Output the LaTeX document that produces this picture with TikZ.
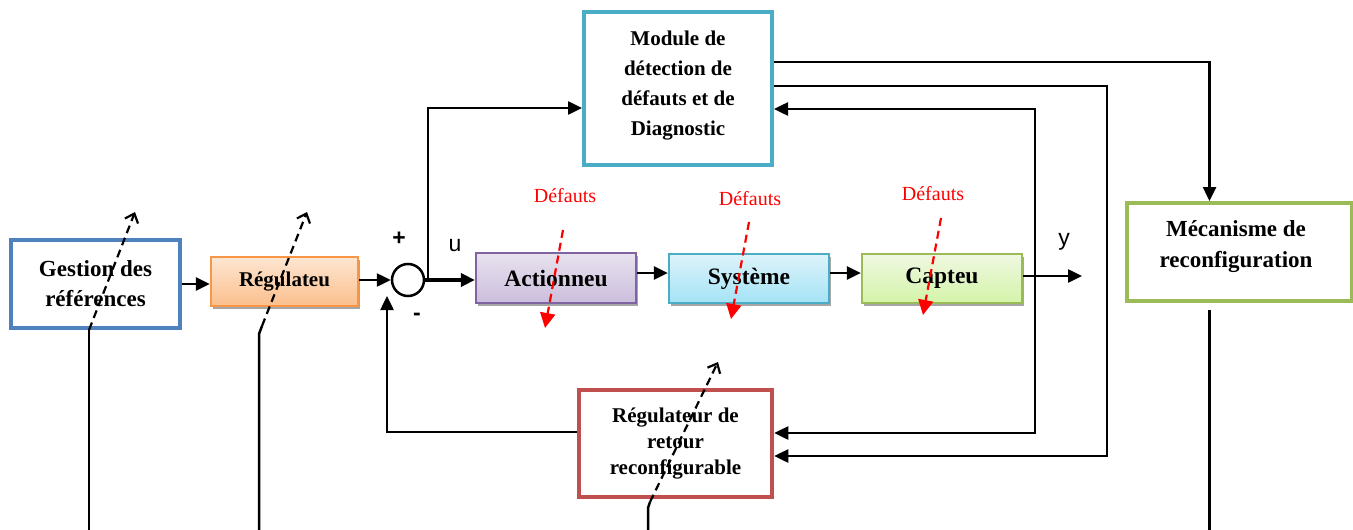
\documentclass[tikz,border=0pt]{standalone}
\usepackage{fontspec}
\setmainfont{Liberation Serif}
\newfontfamily\sansf{Liberation Sans}
\usetikzlibrary{arrows.meta,shadows,calc}
\definecolor{cBlue}{HTML}{4F81BD}
\definecolor{cOrange}{HTML}{F79646}
\definecolor{cPurple}{HTML}{8064A2}
\definecolor{cCyan}{HTML}{4BACC6}
\definecolor{cGreen}{HTML}{9BBB59}
\definecolor{cRed}{HTML}{C0504D}
\definecolor{oTop}{HTML}{FDE6D2}
\definecolor{oBot}{HTML}{FBBF8C}
\definecolor{pTop}{HTML}{E8E2EE}
\definecolor{pBot}{HTML}{CBBEDD}
\definecolor{sTop}{HTML}{DDF3FA}
\definecolor{sBot}{HTML}{A4E3F6}
\definecolor{gTop}{HTML}{F0F8E2}
\definecolor{gBot}{HTML}{D3F4A8}
\begin{document}
\begin{tikzpicture}[x=1pt,y=-1pt,
  bigbox/.style={draw, fill=white, inner sep=0pt, align=center, font=\bfseries},
  smallbox/.style={draw, line width=2.2pt, inner sep=0pt, align=center,
     drop shadow={shadow xshift=2pt, shadow yshift=-3pt, fill=black!35, opacity=1}},
  conn/.style={line width=2.5pt, -{Triangle[length=14pt,width=13pt]}},
  plain/.style={line width=2.5pt},
  reconf/.style={line width=2.2pt, dash pattern=on 8pt off 5pt, -{Straight Barb[length=8pt,width=14pt,line width=2.2pt]}},
  fault/.style={red, line width=2.2pt, dash pattern=on 8pt off 5pt, -{Triangle[length=15pt,width=15pt]}},
  flabel/.style={red, font=\fontsize{20}{24}\selectfont},
  sig/.style={font=\sansf\fontsize{23}{26}\selectfont}]
\useasboundingbox (0,0) rectangle (1353,530);
\fill[white] (0,0) rectangle (1353,530);

% boxes
\node[bigbox, draw=cBlue, line width=3.5pt, minimum width=169pt, minimum height=88pt,
  font=\bfseries\fontsize{23}{30}\selectfont] (gest) at (95.5,284) {Gestion des\\références};
\node[smallbox, draw=cOrange, top color=oTop, bottom color=oBot, minimum width=147pt, minimum height=49pt,
  font=\bfseries\fontsize{21}{24}\selectfont] (reg) at (284.5,281.5) {Régulateu};
\node[draw, line width=2.5pt, circle, minimum size=32pt, inner sep=0pt] (sum) at (408,280) {};
\node[smallbox, draw=cPurple, top color=pTop, bottom color=pBot, minimum width=160pt, minimum height=50pt,
  font=\bfseries\fontsize{23.5}{26}\selectfont] (act) at (556,278) {Actionneu};
\node[smallbox, draw=cCyan, top color=sTop, bottom color=sBot, minimum width=160pt, minimum height=49pt,
  font=\bfseries\fontsize{23.5}{26}\selectfont] (sys) at (749,278.5) {Système};
\node[smallbox, draw=cGreen, top color=gTop, bottom color=gBot, minimum width=160pt, minimum height=49pt,
  font=\bfseries\fontsize{23.5}{26}\selectfont] (cap) at (942,278.5) {Capteu};
\node[bigbox, draw=cCyan, line width=4pt, minimum width=188pt, minimum height=153pt] (mod) at (678,88.5) {};
\node[font=\bfseries\fontsize{21}{29.7}\selectfont, align=center] (modt) at (678,85.5) {Module de\\détection de\\défauts et de\\Diagnostic};
\node[bigbox, draw=cGreen, line width=4pt, minimum width=225pt, minimum height=98pt] (meca) at (1239.5,252) {};
\node[font=\bfseries\fontsize{23}{31}\selectfont, align=center] (mecat) at (1236,247) {Mécanisme de\\reconfiguration};
\node[bigbox, draw=cRed, line width=4.5pt, minimum width=193pt, minimum height=107pt,
  font=\bfseries\fontsize{21}{26}\selectfont] (ret) at (675.5,443.5) {Régulateur de\\retour\\reconfigurable};

% signs and labels
\node[sig, font=\sansf\bfseries\fontsize{23}{26}\selectfont] (plus) at (399,239) {+};
\node[sig, font=\sansf\bfseries\fontsize{23}{26}\selectfont] (minus) at (417,317) {-};
\node[sig] (ulab) at (455,246) {u};
\node[sig] (ylab) at (1064,242) {y};

% coordinates
\coordinate (br) at (428,280);
\coordinate (yout) at (1082,276);
\coordinate (tap) at (1035,276);
\coordinate (fbend) at (387,296);

% forward path
\draw[conn] (gest.east) -- (gest.east -| reg.west);
\draw[conn] (sum.west -| reg.east) -- (sum.west);
\draw[conn, line width=3.5pt] (sum.east) -- (sum.east -| act.west);
\draw[conn] ($(act.east)+(0,-5)$) -- ($(act.east -| sys.west)+(0,-5)$);
\draw[conn] ($(sys.east)+(0,-5.5)$) -- ($(sys.east -| cap.west)+(0,-5.5)$);
\draw[conn] ($(cap.east)+(0,-2.5)$) -- (yout);
\draw[conn] (br) |- ($(mod.west)+(0,19.5)$);

% module outputs
\draw[conn] ($(mod.east)+(0,-26.5)$) -| ($(meca.north)+(-30,0)$);
\draw[conn] ($(mod.east)+(0,-2.5)$) -| (1107,456) -- ($(ret.east)+(0,12.5)$);
\draw[conn] (tap) |- ($(mod.east)+(0,20.5)$);
\draw[conn] (tap) |- ($(ret.east)+(0,-10.5)$);

% feedback
\draw[conn] ($(ret.west)+(0,-11.5)$) -| (fbend);

% mecanisme output
\draw[plain] ($(meca.south)+(-30,7)$) -- ($(meca.south)+(-30,280)$);

% reconfiguration arrows
\coordinate (r1) at (89,330);
\coordinate (r2) at (262,326);
\coordinate (r3) at (650,502);
\draw[plain] (89,532) -- (r1);
\draw[reconf] (r1) -- (135,212);
\draw[plain] (259,532) -- (259,334) -- (r2);
\draw[reconf] (r2) -- (307,212);
\draw[plain] (648,532) -- (648,508) -- (r3);
\draw[reconf] (r3) -- (718,362);

% faults
\node[flabel] (f1) at (565,196) {Défauts};
\node[flabel] (f2) at (750,199) {Défauts};
\node[flabel] (f3) at (933,194) {Défauts};
\draw[fault] (563,230) -- (545,328);
\draw[fault] (749,222) -- (731,319);
\draw[fault] (941,218) -- (923,315);
\end{tikzpicture}
\end{document}
